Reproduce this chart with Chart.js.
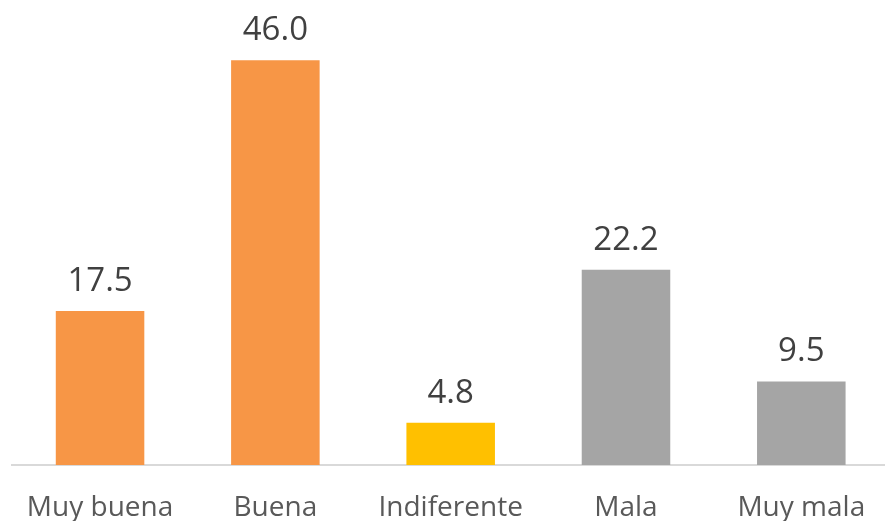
<!DOCTYPE html>
<html>
<head>
<meta charset="utf-8">
<script src="https://cdn.jsdelivr.net/npm/chart.js@4/dist/chart.umd.min.js"></script>
<style>
  html, body { margin: 0; padding: 0; background: #ffffff; overflow: hidden; }
  #wrap { width: 885px; height: 521px; overflow: hidden; position: relative; }
  #box { width: 891px; height: 521px; position: absolute; left: 0; top: 0; }
</style>
</head>
<body>
<div id="wrap"><div id="box"><canvas id="c"></canvas></div></div>
<script>
const categories = ["Muy buena", "Buena", "Indiferente", "Mala", "Muy mala"];
const values = [17.5, 46.0, 4.8, 22.2, 9.5];

const barColors = ["#F79646", "#F79646", "#FFC000", "#A5A5A5", "#A5A5A5"];

const valueLabels = {
  id: "valueLabels",
  afterDatasetsDraw(chart) {
    const ctx = chart.ctx;
    const meta = chart.getDatasetMeta(0);
    ctx.save();
    ctx.font = '33px "Open Sans"';
    ctx.fillStyle = "#404040";
    ctx.textAlign = "center";
    ctx.textBaseline = "alphabetic";
    meta.data.forEach((bar, i) => {
      const v = chart.data.datasets[0].data[i];
      ctx.fillText(v.toFixed(1), bar.x, bar.y - 20);
    });
    ctx.restore();
  }
};

new Chart(document.getElementById("c"), {
  type: "bar",
  data: {
    labels: categories,
    datasets: [{
      data: values,
      backgroundColor: barColors,
      borderWidth: 0,
      categoryPercentage: 1.0,
      barPercentage: 0.505
    }]
  },
  options: {
    responsive: true,
    maintainAspectRatio: false,
    animation: false,
    layout: { padding: { left: 10.5, right: 0, top: 25, bottom: 0 } },
    plugins: { legend: { display: false }, tooltip: { enabled: false } },
    scales: {
      y: { display: false, min: 0, max: 50 },
      x: {
        grid: { display: false, drawTicks: false },
        border: { display: true, color: "#D9D9D9", width: 2 },
        ticks: {
          color: "#595959",
          font: { family: "Open Sans", size: 28 },
          padding: 26
        },
        afterFit(scale) { scale.height = 56; }
      }
    }
  },
  plugins: [valueLabels]
});
</script>
</body>
</html>
